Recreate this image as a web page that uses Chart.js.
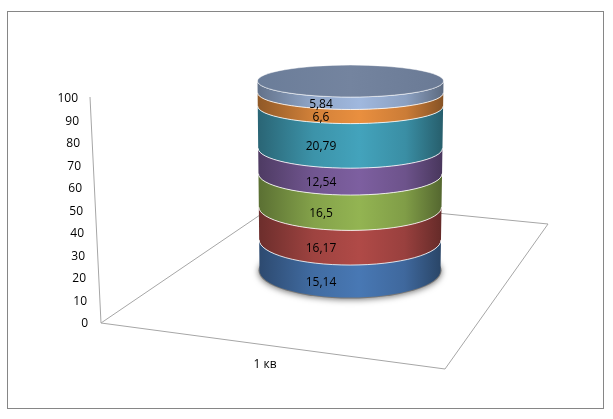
<!DOCTYPE html>
<html>
<head>
<meta charset="utf-8">
<script src="https://cdn.jsdelivr.net/npm/chart.js@4"></script>
<style>
  html, body { margin: 0; padding: 0; background: #fff; }
  canvas { display: block; }
</style>
</head>
<body>
<canvas id="stackChart" width="613" height="419"></canvas>
<script>
// chart values
const categories = ['1 кв'];
const seriesValues = [15.14, 16.17, 16.5, 12.54, 20.79, 6.6, 5.84];
const seriesColors = ['#4878b4', '#b04a47', '#93b452', '#7d5fa0', '#43a3bc', '#e98f3f', '#a0b8de'];
const axisTicks = [0, 10, 20, 30, 40, 50, 60, 70, 80, 90, 100];

const fontName = '"Open Sans", sans-serif';
const lineGrey = '#a6a6a6';

// floor of the fake 3d box, in canvas pixels
const floorFront = [[101, 323], [445, 369], [548, 224], [285, 198]];

// multiply a hex colour, so the sides of the cylinder can get darker
function shade(hex, f) {
  const n = parseInt(hex.slice(1), 16);
  const r = Math.round(((n >> 16) & 255) * f);
  const g = Math.round(((n >> 8) & 255) * f);
  const b = Math.round((n & 255) * f);
  return 'rgb(' + r + ',' + g + ',' + b + ')';
}

// ellipse size grows to the bottom of the stack (perspective)
function ringAt(chart, y) {
  const bars = chart.scales.bars;
  const t = (y - bars.getPixelForValue(bars.max)) / (bars.getPixelForValue(0) - bars.getPixelForValue(bars.max));
  const cx = chart.getDatasetMeta(0).data[0].x;
  const ry = 16 + 11 * t;
  return { cx: cx + 0.5 * (1 - t), rx: 93 - 2.5 * t, ry: ry, cy: y - ry };
}

const cylinderPlugin = {
  id: 'cylinder',
  beforeDraw(chart) {
    const ctx = chart.ctx;
    ctx.save();
    ctx.strokeStyle = '#868686';
    ctx.lineWidth = 1;
    ctx.strokeRect(7.5, 11.5, 596, 397);
    ctx.restore();

    // tick labels follow the slanted wall, the category label sits under the floor
    const y = chart.scales.y;
    y.getLabelItems().forEach(function(item, i) {
      const v = y.ticks[i].value;
      item.options.translation = [88 - v / 10, y.getPixelForValue(v) + 1];
    });
    chart.scales.x.getLabelItems().forEach(function(item) {
      item.options.translation = [265, 365];
      item.options.textBaseline = 'middle';
      item.textOffset = 0;
    });
  },
  beforeDatasetsDraw(chart) {
    const ctx = chart.ctx;
    ctx.save();
    ctx.strokeStyle = lineGrey;
    ctx.lineWidth = 1;
    ctx.beginPath();
    ctx.moveTo(90, 97);
    ctx.lineTo(floorFront[0][0], floorFront[0][1]);
    ctx.stroke();
    ctx.beginPath();
    floorFront.forEach(function(p, i) {
      if (i === 0) ctx.moveTo(p[0], p[1]);
      else ctx.lineTo(p[0], p[1]);
    });
    ctx.closePath();
    ctx.stroke();

    // soft shadow under the base
    const base = ringAt(chart, chart.scales.bars.getPixelForValue(0));
    ctx.shadowColor = 'rgba(0,0,0,0.55)';
    ctx.shadowBlur = 6;
    ctx.shadowOffsetY = 1;
    ctx.fillStyle = '#777';
    ctx.beginPath();
    ctx.ellipse(base.cx, base.cy, base.rx + 1, base.ry + 1, 0, 0, Math.PI * 2);
    ctx.fill();
    ctx.restore();
  },
  beforeDatasetDraw(chart, args) {
    const ctx = chart.ctx;
    const bar = chart.getDatasetMeta(args.index).data[0];
    const color = seriesColors[args.index];
    const top = ringAt(chart, bar.y);
    const low = ringAt(chart, bar.base);

    const grad = ctx.createLinearGradient(low.cx - low.rx, 0, low.cx + low.rx, 0);
    grad.addColorStop(0, shade(color, 0.62));
    grad.addColorStop(0.3, shade(color, 0.9));
    grad.addColorStop(0.55, shade(color, 1));
    grad.addColorStop(0.8, shade(color, 0.87));
    grad.addColorStop(1, shade(color, 0.58));

    ctx.save();
    ctx.fillStyle = grad;
    ctx.beginPath();
    ctx.ellipse(top.cx, top.cy, top.rx, top.ry, 0, Math.PI, 0, true);
    ctx.ellipse(low.cx, low.cy, low.rx, low.ry, 0, 0, Math.PI, false);
    ctx.closePath();
    ctx.fill();

    // light bevel on the upper edge of the band
    ctx.strokeStyle = 'rgba(255,255,255,0.8)';
    ctx.lineWidth = 1;
    ctx.beginPath();
    ctx.ellipse(top.cx, top.cy, top.rx, top.ry, 0, Math.PI, 0, true);
    ctx.stroke();
    ctx.restore();
    return false; // we painted the bar ourselves
  },
  afterDatasetsDraw(chart) {
    const ctx = chart.ctx;
    const last = chart.getDatasetMeta(seriesValues.length - 1).data[0];
    const cap = ringAt(chart, last.y);

    ctx.save();
    const grad = ctx.createLinearGradient(cap.cx - cap.rx, 0, cap.cx + cap.rx, 0);
    grad.addColorStop(0, '#6b7d99');
    grad.addColorStop(0.5, '#74849f');
    grad.addColorStop(1, '#6a7a95');
    ctx.fillStyle = grad;
    ctx.beginPath();
    ctx.ellipse(cap.cx, cap.cy, cap.rx, cap.ry, 0, 0, Math.PI * 2);
    ctx.fill();
    ctx.strokeStyle = 'rgba(255,255,255,0.45)';
    ctx.lineWidth = 1;
    ctx.stroke();

    // value labels, decimal comma like the original
    ctx.fillStyle = '#000';
    ctx.font = '12px ' + fontName;
    ctx.textAlign = 'center';
    ctx.textBaseline = 'middle';
    seriesValues.forEach(function(v, i) {
      const bar = chart.getDatasetMeta(i).data[0];
      ctx.fillText(String(v).replace('.', ','), bar.x - 29, (bar.y + bar.base) / 2 + 1);
    });
    ctx.restore();
  }
};

document.addEventListener("DOMContentLoaded", function() {
  const ctx = document.getElementById('stackChart').getContext('2d');

  new Chart(ctx, {
    type: 'bar',
    data: {
      labels: categories,
      datasets: seriesValues.map(function(v, i) {
        return {
          label: 'Ряд ' + (i + 1),
          data: [v],
          backgroundColor: seriesColors[i],
          yAxisID: 'bars'
        };
      })
    },
    options: {
      responsive: false,
      animation: false,
      events: [],
      barPercentage: 0.37,
      categoryPercentage: 1,
      layout: { padding: { left: 41, right: 14, top: 98, bottom: 36 } },
      plugins: { legend: { display: false }, tooltip: { enabled: false } },
      scales: {
        x: {
          stacked: true,
          grid: { display: false },
          border: { display: false },
          ticks: { color: '#000', font: { family: fontName, size: 12 } },
          afterFit(scale) { scale.height = 60; }
        },
        // visible value axis on the wall of the box
        y: {
          min: axisTicks[0],
          max: axisTicks[axisTicks.length - 1],
          grid: { display: false },
          border: { display: false },
          afterBuildTicks(scale) {
            scale.ticks = axisTicks.map(function(v) { return { value: v }; });
          },
          ticks: { autoSkip: false, color: '#000', padding: 0, font: { family: fontName, size: 12 } },
          afterFit(scale) { scale.width = 60; }
        },
        // the bars stand on the floor, further forward than the wall axis
        bars: {
          display: false,
          stacked: true,
          min: -11.9,
          max: 93.1
        }
      }
    },
    plugins: [cylinderPlugin]
  });
});
</script>
</body>
</html>
